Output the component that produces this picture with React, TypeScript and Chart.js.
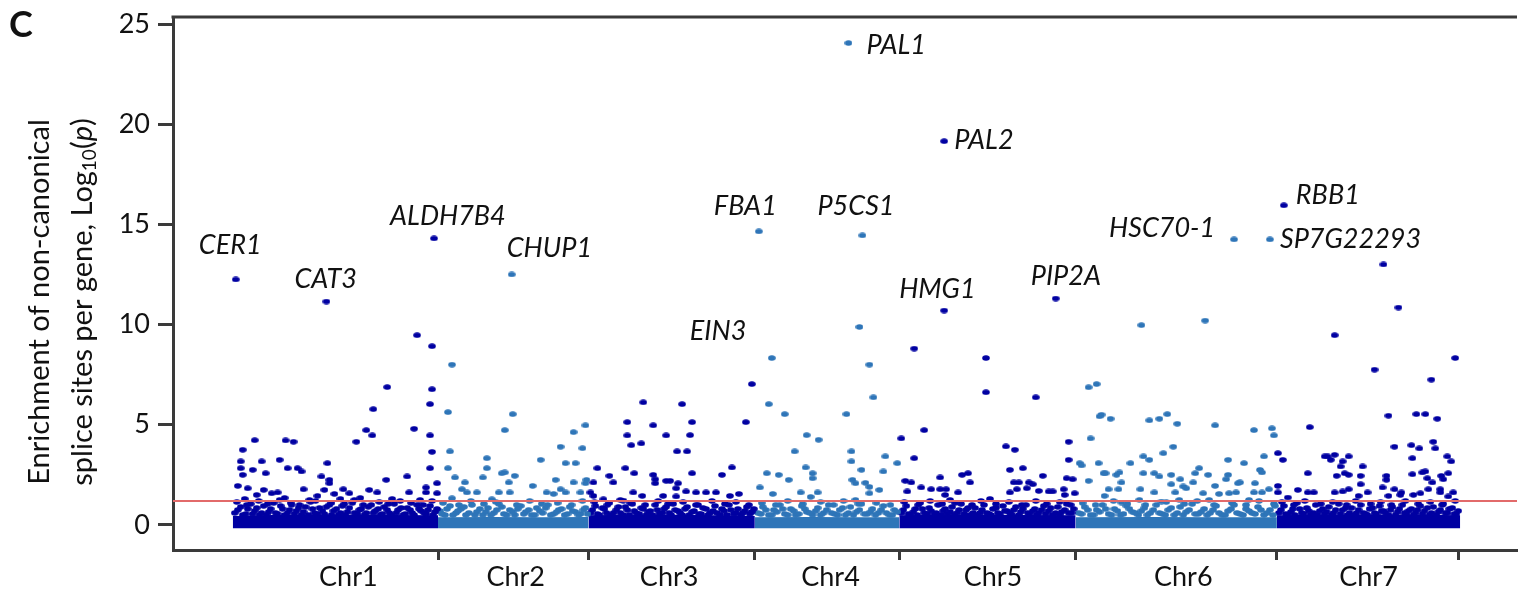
import React, { useEffect, useRef } from "react";
import { Chart, registerables } from "chart.js";

Chart.register(...registerables);

// ---------- DATA ----------
// x = cumulative genome position (Mb-like units), y = -Log10(p)
const chrNames = ["Chr1", "Chr2", "Chr3", "Chr4", "Chr5", "Chr6", "Chr7"];
const chrBoundaries = [206, 357, 524, 669, 846, 1048, 1230];
const chrLabelPositions = [116, 284, 438, 600, 763, 954, 1140];
const yTickValues = [0, 5, 10, 15, 20, 25];
const thresholdValue = 1.2;
const xMin = -60;
const xMax = 1289;
const yMin = -1.25;
const yMax = 25.35;

// dense low-significance band (upper edge of the solid mass of points)
const chr1Band = [[0, 0.45], [40, 0.5], [100, 0.52], [160, 0.5], [206, 0.48]];
const chr2Band = [[206, 0.38], [260, 0.4], [310, 0.38], [357, 0.4]];
const chr3Band = [[357, 0.48], [420, 0.52], [470, 0.5], [524, 0.45]];
const chr4Band = [[524, 0.38], [580, 0.4], [630, 0.38], [669, 0.38]];
const chr5Band = [[669, 0.48], [740, 0.52], [800, 0.5], [846, 0.48]];
const chr6Band = [[846, 0.38], [920, 0.4], [990, 0.38], [1048, 0.38]];
const chr7Band = [[1048, 0.48], [1120, 0.52], [1180, 0.52], [1232, 0.48]];

const chr1 = [
  [3, 12.25], [94, 11.15], [202, 14.3], [185, 9.47], [200, 8.92], [155, 6.88], [200, 6.77], [198, 6.03],
  [141, 5.78], [182, 4.8], [134, 4.73], [140, 4.47], [198, 4.47], [124, 4.15], [22, 4.23], [53, 4.22],
  [61, 4.15], [10, 3.75], [200, 3.65], [47, 3.25], [29, 3.17], [8, 3.17], [95, 3.08], [8, 2.83], [20, 2.75],
  [55, 2.83], [65, 2.83], [198, 2.83], [10, 2.5], [33, 2.58], [69, 2.67], [89, 2.42], [175, 2.42], [97, 2.25],
  [97, 2.08], [154, 2.25], [205, 2.08], [5, 1.95], [15, 1.83], [31, 1.75], [71, 1.78], [92, 1.75], [111, 1.78],
  [137, 1.75], [194, 1.87], [194, 1.62], [177, 1.62], [24, 1.5], [39, 1.58], [45, 1.62], [85, 1.45], [102, 1.55],
  [117, 1.58], [145, 1.62], [205, 1.58], [12, 1.3], [52, 1.35], [77, 1.25], [108, 1.3], [128, 1.35], [160, 1.3],
  [188, 1.25],
  [4, 1.15], [14, 1.0], [26, 1.2], [35, 1.05], [47, 1.25], [58, 1.1], [67, 1.0], [83, 1.2], [99, 1.1], [112, 1.05],
  [122, 1.25], [131, 1.0], [147, 1.15], [156, 1.05], [168, 1.2], [179, 1.1], [191, 1.0], [200, 1.2],
  [2, 0.6], [8, 0.9], [13, 0.55], [18, 1.05], [22, 0.7], [27, 0.5], [31, 0.95], [36, 0.65], [41, 1.1], [45, 0.55],
  [50, 0.8], [55, 0.6], [59, 1.0], [64, 0.7], [69, 0.5], [73, 0.9], [78, 1.15], [82, 0.6], [87, 0.85], [92, 0.55],
  [97, 1.0], [101, 0.7], [106, 0.5], [110, 0.95], [115, 0.65], [120, 1.1], [125, 0.55], [129, 0.8], [134, 0.6],
  [139, 1.0], [143, 0.7], [148, 0.5], [152, 0.9], [157, 0.6], [162, 1.05], [166, 0.75], [171, 0.5], [175, 0.85],
  [180, 0.6], [185, 1.0], [189, 0.7], [194, 0.55], [198, 0.95], [203, 0.65],
  [5, 0.75], [10, 0.5], [15, 0.8], [20, 0.55], [24, 0.85], [29, 0.6], [34, 0.5], [38, 0.8], [43, 0.6], [48, 0.95],
  [52, 0.5], [57, 0.75], [62, 0.55], [66, 0.85], [71, 0.65], [76, 0.5], [80, 0.8], [85, 0.55], [90, 0.7], [94, 0.9],
  [99, 0.5], [104, 0.8], [108, 0.6], [113, 0.5], [117, 0.85], [122, 0.6], [127, 0.75], [132, 0.5], [136, 0.9],
  [141, 0.6], [146, 0.8], [150, 0.55], [155, 0.75], [159, 0.5], [164, 0.6], [169, 0.85], [173, 0.55], [178, 0.75],
  [182, 0.5], [187, 0.8], [192, 0.6], [196, 0.75], [201, 0.5], [205, 0.8],
];

const chr2 = [
  [280, 12.5], [220, 8.0], [216, 5.63], [281, 5.53], [273, 4.73], [354, 4.97], [342, 4.63], [329, 3.9],
  [351, 3.83], [218, 3.67], [255, 3.33], [309, 3.25], [334, 3.08], [344, 3.08], [216, 2.83], [255, 2.83],
  [270, 2.58], [273, 2.62], [283, 2.45], [223, 2.37], [251, 2.37], [324, 2.25], [233, 2.12], [277, 2.12],
  [301, 1.95], [342, 2.12], [355, 2.25], [354, 2.08], [230, 1.78], [235, 1.62], [245, 1.62], [267, 1.62],
  [278, 1.62], [315, 1.62], [322, 1.55], [329, 1.78], [334, 1.62], [349, 1.62], [220, 1.33], [260, 1.28],
  [211, 1.1], [227, 1.0], [239, 1.2], [252, 1.05], [264, 1.15], [285, 1.0], [298, 1.2], [310, 1.05], [326, 1.1],
  [340, 1.0], [351, 1.2],
  [208, 0.7], [213, 0.5], [218, 0.95], [224, 0.6], [229, 0.8], [234, 0.5], [240, 1.0], [245, 0.65], [251, 0.5],
  [256, 0.85], [262, 0.6], [267, 1.05], [272, 0.55], [278, 0.75], [283, 0.5], [289, 0.95], [294, 0.65], [300, 0.5],
  [305, 0.85], [311, 0.6], [316, 1.0], [322, 0.55], [327, 0.75], [333, 0.5], [338, 0.9], [344, 0.65], [349, 0.55],
  [354, 0.85],
  [210, 0.55], [215, 0.8], [221, 0.5], [226, 0.7], [232, 0.9], [237, 0.6], [243, 0.5], [248, 0.8], [254, 0.65],
  [259, 0.5], [265, 0.75], [270, 0.9], [275, 0.5], [281, 0.65], [286, 0.8], [292, 0.55], [297, 0.75], [303, 0.5],
  [308, 0.7], [314, 0.85], [319, 0.5], [325, 0.65], [330, 0.8], [336, 0.55], [341, 0.7], [347, 0.5], [352, 0.75],
  [356, 0.55],
];

const chr3 = [
  [412, 6.12], [396, 5.13], [422, 4.97], [396, 4.47], [400, 3.98], [410, 4.07], [435, 4.47], [366, 2.83],
  [394, 2.83], [403, 2.58], [422, 2.5], [424, 2.28], [424, 2.08], [378, 2.45], [382, 2.12], [362, 2.12],
  [435, 2.2], [359, 1.62], [362, 1.45], [402, 1.62], [411, 1.45], [432, 1.45], [372, 1.28], [392, 1.22],
  [521, 7.03], [451, 6.03], [515, 5.13], [461, 5.13], [459, 4.48], [446, 3.67], [456, 3.67], [461, 2.58],
  [491, 2.5], [501, 2.87], [439, 2.2], [447, 2.08], [445, 1.83], [455, 1.67], [465, 1.62], [475, 1.62],
  [485, 1.62], [499, 1.45], [508, 1.55], [445, 1.42],
  [363, 1.15], [376, 1.0], [389, 1.25], [399, 1.1], [414, 1.0], [427, 1.2], [437, 1.05], [452, 1.15], [467, 1.0],
  [481, 1.2], [494, 1.05], [505, 1.15], [518, 1.0],
  [359, 0.6], [364, 0.95], [368, 0.5], [373, 0.8], [378, 1.1], [382, 0.6], [387, 0.9], [392, 0.5], [396, 0.75],
  [401, 1.05], [405, 0.6], [410, 0.85], [415, 0.5], [419, 0.7], [424, 1.0], [428, 0.55], [433, 0.8], [438, 0.6],
  [442, 1.05], [447, 0.7], [451, 0.5], [456, 0.9], [461, 0.65], [465, 1.0], [470, 0.55], [475, 0.8], [479, 0.6],
  [484, 0.95], [489, 0.5], [493, 0.7], [498, 1.0], [503, 0.55], [507, 0.8], [512, 0.6], [516, 0.9], [521, 0.65],
  [361, 0.75], [366, 0.55], [371, 0.85], [375, 0.6], [380, 0.5], [385, 0.75], [389, 0.6], [394, 0.9], [398, 0.5],
  [403, 0.7], [408, 0.55], [412, 0.8], [417, 0.65], [421, 0.5], [426, 0.75], [431, 0.6], [435, 0.9], [440, 0.5],
  [444, 0.75], [449, 0.6], [454, 0.8], [458, 0.5], [463, 0.7], [468, 0.55], [472, 0.85], [477, 0.5], [482, 0.7],
  [486, 0.6], [491, 0.8], [496, 0.5], [500, 0.75], [505, 0.6], [510, 0.5], [514, 0.7], [519, 0.55], [523, 0.8],
];

const chr4 = [
  [618, 24.05], [528, 14.65], [632, 14.45], [541, 8.33], [629, 9.88], [639, 8.0], [643, 6.37], [538, 6.03],
  [554, 5.53], [616, 5.53], [576, 4.48], [588, 4.25], [564, 3.67], [621, 3.67], [621, 3.17], [575, 2.87],
  [631, 2.75], [655, 3.42], [653, 2.67], [667, 3.08], [536, 2.58], [548, 2.5], [582, 2.58], [582, 2.33],
  [558, 2.25], [622, 2.25], [625, 2.08], [635, 2.1], [639, 1.9], [529, 1.87], [542, 1.55], [570, 1.62],
  [587, 1.62], [639, 1.58], [649, 1.75], [580, 1.4], [625, 1.25],
  [531, 1.1], [545, 1.0], [557, 1.2], [572, 1.05], [590, 1.15], [603, 1.0], [613, 1.2], [628, 1.05], [646, 1.1],
  [660, 1.0],
  [527, 0.6], [532, 0.9], [538, 0.5], [543, 0.75], [549, 1.0], [554, 0.55], [560, 0.8], [565, 0.5], [571, 0.95],
  [576, 0.65], [582, 0.5], [587, 0.85], [593, 0.6], [598, 1.0], [604, 0.55], [609, 0.75], [615, 0.5], [620, 0.9],
  [626, 0.65], [631, 1.05], [637, 0.55], [642, 0.8], [648, 0.6], [653, 0.95], [659, 0.5], [664, 0.75],
  [530, 0.55], [535, 0.75], [541, 0.5], [546, 0.65], [552, 0.8], [557, 0.5], [563, 0.7], [568, 0.55], [574, 0.8],
  [579, 0.6], [585, 0.7], [590, 0.5], [596, 0.75], [601, 0.6], [607, 0.5], [612, 0.85], [618, 0.6], [623, 0.5],
  [629, 0.75], [634, 0.55], [640, 0.65], [645, 0.5], [651, 0.75], [656, 0.6], [662, 0.5], [667, 0.65],
];

const chr5 = [
  [714, 19.15], [714, 10.7], [826, 11.3], [684, 8.8], [756, 8.33], [756, 6.62], [806, 6.37], [694, 4.73],
  [671, 4.32], [684, 3.33], [776, 3.92], [785, 3.75], [839, 4.15], [839, 3.25], [780, 2.75], [793, 2.83],
  [813, 2.45], [732, 2.5], [738, 2.58], [710, 2.37], [740, 2.12], [675, 2.2], [681, 2.12], [691, 1.87],
  [701, 1.78], [710, 1.78], [716, 1.78], [728, 1.62], [715, 1.5], [677, 1.67], [784, 2.12], [789, 2.12],
  [799, 2.12], [803, 2.03], [780, 1.62], [787, 1.78], [797, 1.83], [809, 1.7], [819, 1.67], [823, 1.67],
  [834, 1.78], [837, 2.33], [843, 2.28], [845, 1.58], [835, 1.5], [720, 1.25], [760, 1.3],
  [674, 1.15], [688, 1.0], [700, 1.2], [712, 1.05], [725, 1.1], [742, 1.0], [751, 1.2], [766, 1.05], [779, 1.15],
  [792, 1.0], [806, 1.2], [817, 1.05], [830, 1.15], [841, 1.0],
  [671, 0.6], [676, 0.95], [680, 0.5], [685, 0.8], [690, 1.1], [694, 0.6], [699, 0.85], [704, 0.5], [708, 1.0],
  [713, 0.7], [717, 0.55], [722, 0.9], [727, 0.6], [731, 1.05], [736, 0.75], [740, 0.5], [745, 0.85], [750, 0.6],
  [754, 1.0], [759, 0.55], [763, 0.8], [768, 0.6], [773, 0.95], [777, 0.7], [782, 0.5], [786, 0.9], [791, 0.65],
  [796, 1.0], [800, 0.55], [805, 0.8], [809, 0.6], [814, 0.95], [819, 0.7], [823, 0.5], [828, 0.9], [832, 0.65],
  [837, 1.05], [842, 0.6],
  [673, 0.75], [678, 0.55], [683, 0.65], [687, 0.5], [692, 0.8], [697, 0.55], [701, 0.7], [706, 0.6], [711, 0.5],
  [715, 0.8], [720, 0.65], [724, 0.5], [729, 0.75], [734, 0.55], [738, 0.85], [743, 0.6], [747, 0.5], [752, 0.75],
  [757, 0.6], [761, 0.5], [766, 0.85], [770, 0.55], [775, 0.7], [780, 0.6], [784, 0.75], [789, 0.5], [793, 0.8],
  [798, 0.6], [803, 0.7], [807, 0.5], [812, 0.75], [816, 0.55], [821, 0.85], [826, 0.6], [830, 0.5], [835, 0.75],
  [839, 0.6], [844, 0.8],
];

const chr6 = [
  [1005, 14.25], [1041, 14.25], [912, 9.97], [976, 10.2], [859, 6.87], [867, 7.03], [872, 5.5], [870, 5.42],
  [861, 4.32], [850, 3.08], [852, 2.97], [869, 3.08], [874, 2.58], [859, 2.2], [881, 5.3], [920, 5.22],
  [930, 5.3], [938, 5.53], [948, 5.05], [986, 4.97], [1025, 4.73], [1043, 4.82], [1045, 4.47], [944, 3.9],
  [914, 3.42], [920, 3.25], [934, 3.58], [901, 3.08], [999, 3.25], [1015, 3.08], [1035, 3.42], [970, 2.83],
  [966, 2.58], [876, 2.58], [887, 2.5], [890, 2.62], [914, 2.58], [925, 2.58], [930, 2.42], [942, 2.5],
  [951, 2.28], [979, 2.5], [999, 2.5], [1031, 2.75], [1033, 2.62], [892, 2.12], [942, 2.03], [954, 1.92],
  [964, 2.12], [986, 1.95], [997, 2.28], [1009, 2.08], [1011, 2.12], [1026, 2.08], [879, 1.78], [889, 1.78],
  [911, 1.78], [925, 1.62], [946, 1.62], [957, 1.83], [974, 1.58], [990, 1.55], [1000, 1.58], [1007, 1.62],
  [1025, 1.62], [1033, 1.62], [1040, 1.78], [875, 1.45], [892, 1.12], [910, 1.25], [932, 1.17], [950, 1.25],
  [980, 1.25], [1020, 1.25],
  [853, 1.1], [866, 1.0], [884, 1.2], [898, 1.05], [916, 1.0], [937, 1.15], [955, 1.05], [968, 1.2], [985, 1.0],
  [1003, 1.1], [1017, 1.0], [1030, 1.2], [1045, 1.05],
  [849, 0.6], [855, 0.9], [861, 0.5], [867, 0.75], [873, 1.0], [879, 0.55], [885, 0.8], [891, 0.5], [897, 0.95],
  [903, 0.65], [909, 0.5], [915, 0.85], [921, 0.6], [927, 1.0], [933, 0.55], [939, 0.75], [945, 0.5], [951, 0.9],
  [957, 0.65], [963, 1.05], [969, 0.55], [975, 0.8], [981, 0.6], [987, 0.95], [993, 0.5], [999, 0.7], [1005, 1.0],
  [1011, 0.55], [1017, 0.8], [1023, 0.6], [1029, 0.9], [1035, 0.5], [1041, 0.75], [1046, 0.95],
  [852, 0.55], [858, 0.75], [864, 0.5], [870, 0.65], [876, 0.8], [882, 0.5], [888, 0.7], [894, 0.55], [900, 0.8],
  [906, 0.6], [912, 0.7], [918, 0.5], [924, 0.75], [930, 0.6], [936, 0.5], [942, 0.85], [948, 0.6], [954, 0.5],
  [960, 0.75], [966, 0.55], [972, 0.65], [978, 0.5], [984, 0.75], [990, 0.6], [996, 0.5], [1002, 0.8], [1008, 0.6],
  [1014, 0.5], [1020, 0.7], [1026, 0.55], [1032, 0.75], [1038, 0.6], [1044, 0.5],
];

const chr7 = [
  [1055, 15.95], [1155, 13.0], [1170, 10.85], [1081, 4.88], [1049, 3.58], [1054, 3.25], [1096, 3.42],
  [1079, 2.58], [1049, 1.95], [1049, 1.62], [1059, 1.37], [1069, 1.75], [1079, 1.62], [1085, 1.62],
  [1106, 9.47], [1227, 8.33], [1146, 7.75], [1203, 7.25], [1160, 5.45], [1188, 5.53], [1197, 5.53],
  [1209, 5.3], [1205, 4.15], [1207, 3.82], [1166, 3.9], [1183, 3.98], [1191, 3.82], [1184, 3.33], [1219, 3.42],
  [1223, 3.17], [1099, 3.42], [1106, 3.5], [1102, 3.25], [1120, 3.42], [1114, 3.17], [1112, 2.92], [1116, 2.58],
  [1120, 2.5], [1134, 2.92], [1108, 2.45], [1132, 2.45], [1132, 2.03], [1158, 2.45], [1158, 2.25], [1184, 2.53],
  [1194, 2.62], [1197, 2.67], [1199, 2.33], [1204, 2.12], [1213, 2.45], [1215, 2.28], [1220, 2.58], [1154, 1.87],
  [1166, 1.78], [1173, 1.62], [1106, 1.62], [1114, 1.67], [1120, 1.78], [1130, 1.45], [1139, 1.62], [1200, 1.78],
  [1212, 1.78], [1212, 1.62], [1225, 1.62], [1185, 1.5], [1192, 1.58], [1220, 1.42], [1160, 1.45], [1172, 1.5],
  [1053, 1.15], [1065, 1.0], [1076, 1.2], [1092, 1.05], [1104, 1.15], [1118, 1.0], [1127, 1.2], [1142, 1.05],
  [1152, 1.15], [1163, 1.0], [1177, 1.2], [1190, 1.05], [1202, 1.15], [1214, 1.0], [1227, 1.2],
  [1050, 0.6], [1055, 0.95], [1059, 0.5], [1064, 0.8], [1068, 1.1], [1073, 0.6], [1078, 0.85], [1082, 0.5],
  [1087, 1.0], [1091, 0.7], [1096, 0.55], [1100, 0.9], [1105, 0.6], [1110, 1.05], [1114, 0.75], [1119, 0.5],
  [1123, 0.85], [1128, 0.6], [1132, 1.0], [1137, 0.55], [1141, 0.8], [1146, 0.6], [1151, 0.95], [1155, 0.7],
  [1160, 0.5], [1164, 0.9], [1169, 0.65], [1174, 1.0], [1178, 0.55], [1183, 0.8], [1187, 0.6], [1192, 0.95],
  [1196, 0.7], [1201, 0.5], [1205, 0.9], [1210, 0.65], [1215, 1.05], [1219, 0.6], [1224, 0.85], [1228, 0.55],
  [1052, 0.75], [1057, 0.55], [1062, 0.65], [1066, 0.5], [1071, 0.8], [1075, 0.55], [1080, 0.7], [1085, 0.6],
  [1089, 0.5], [1094, 0.8], [1098, 0.65], [1103, 0.5], [1107, 0.75], [1112, 0.55], [1117, 0.85], [1121, 0.6],
  [1126, 0.5], [1130, 0.75], [1135, 0.6], [1139, 0.5], [1144, 0.85], [1148, 0.55], [1153, 0.7], [1157, 0.6],
  [1162, 0.75], [1167, 0.5], [1171, 0.8], [1176, 0.6], [1180, 0.7], [1185, 0.5], [1189, 0.75], [1194, 0.55],
  [1199, 0.85], [1203, 0.6], [1208, 0.5], [1212, 0.75], [1217, 0.6], [1221, 0.8], [1226, 0.55], [1230, 0.7],
];

// labelled genes: name, position, value
const geneNames = ["CER1", "CAT3", "ALDH7B4", "CHUP1", "EIN3", "FBA1", "P5CS1", "PAL1", "PAL2", "HMG1", "PIP2A", "HSC70-1", "RBB1", "SP7G22293"];
const genePositions = [3, 94, 202, 280, 521, 528, 632, 618, 714, 714, 826, 1005, 1055, 1041];
const geneValues = [12.25, 11.15, 14.3, 12.5, 7.03, 14.65, 14.45, 24.05, 19.15, 10.7, 11.3, 14.25, 15.95, 14.25];

// ---------- STYLE ----------
const DARK = "#0000A2";
const LIGHT = "#2E75B8";
const AXIS = "#3a3a3a";
const TEXT = "#111111";
const FONT = "Lato, 'Open Sans', sans-serif";
const TICK_SIZE = 27;
const LABEL_SIZE = 27;
const TITLE_SIZE = 29;
// label offsets in px relative to the marked point (left edge, vertical middle)
const labelOffsets = [
  [-37, -34], [-32, -22], [-44, -22], [-5, -26], [-62, -53], [-45, -25], [-45, -29],
  [18, 2], [10, -1], [-45, -21], [-25, -22], [-125, -11], [12, -10], [10, 0],
];

function makeDot(color: string) {
  const c = document.createElement("canvas");
  c.width = 8;
  c.height = 6;
  const g = c.getContext("2d")!;
  g.fillStyle = color;
  g.beginPath();
  g.ellipse(4, 3, 3.8, 2.8, 0, 0, Math.PI * 2);
  g.fill();
  return c;
}

const toXY = (arr: number[][]) => arr.map(([x, y]) => ({ x, y }));

export default function App() {
  const ref = useRef<HTMLCanvasElement>(null);

  useEffect(() => {
    document.body.style.margin = "0";
    const darkDot = makeDot(DARK);
    const lightDot = makeDot(LIGHT);
    const chrData = [chr1, chr2, chr3, chr4, chr5, chr6, chr7];
    const bands = [chr1Band, chr2Band, chr3Band, chr4Band, chr5Band, chr6Band, chr7Band];

    const datasets: any[] = [];
    bands.forEach((b, i) => {
      const col = i % 2 === 0 ? DARK : LIGHT;
      datasets.push({
        type: "line",
        data: toXY(b),
        backgroundColor: col,
        borderColor: col,
        borderWidth: 0,
        pointRadius: 0,
        fill: { value: -0.17 },
        tension: 0,
        order: 3,
      });
    });
    chrData.forEach((d, i) => {
      const even = i % 2 === 0;
      datasets.push({
        type: "scatter",
        data: toXY(d),
        pointStyle: even ? darkDot : lightDot,
        backgroundColor: even ? DARK : LIGHT,
        pointRadius: 3.5,
        order: 2,
      });
    });
    datasets.push({
      type: "line",
      data: [{ x: xMin, y: thresholdValue }, { x: xMax, y: thresholdValue }],
      borderColor: "#E26A6A",
      borderWidth: 2,
      pointRadius: 0,
      fill: false,
      order: 0,
    });

    const tickSet = [...chrBoundaries, ...chrLabelPositions].sort((a, b) => a - b);

    const overlay = {
      id: "overlay",
      afterDraw(chart: any) {
        const { ctx, chartArea, scales } = chart;
        ctx.save();
        // top frame line
        ctx.strokeStyle = AXIS;
        ctx.lineWidth = 3;
        ctx.beginPath();
        ctx.moveTo(chartArea.left - 1.5, chartArea.top);
        ctx.lineTo(chartArea.right, chartArea.top);
        ctx.stroke();

        // gene labels
        ctx.fillStyle = TEXT;
        ctx.font = `italic ${LABEL_SIZE}px ${FONT}`;
        ctx.textBaseline = "middle";
        ctx.textAlign = "left";
        geneNames.forEach((g, i) => {
          const px = scales.x.getPixelForValue(genePositions[i]);
          const py = scales.y.getPixelForValue(geneValues[i]);
          ctx.fillText(g, px + labelOffsets[i][0], py + labelOffsets[i][1]);
        });

        // panel letter
        ctx.font = `bold 36px ${FONT}`;
        ctx.textBaseline = "alphabetic";
        ctx.fillText("C", 9, 37);

        // y-axis title (two lines, rotated)
        const cy = 302;
        ctx.save();
        ctx.translate(40, cy);
        ctx.rotate(-Math.PI / 2);
        ctx.textAlign = "center";
        ctx.textBaseline = "middle";
        ctx.font = `${TITLE_SIZE}px ${FONT}`;
        ctx.fillText("Enrichment of non-canonical", 0, 0);
        ctx.restore();

        ctx.save();
        ctx.translate(83, cy);
        ctx.rotate(-Math.PI / 2);
        ctx.textAlign = "left";
        ctx.textBaseline = "middle";
        const parts = [
          { t: "splice sites per gene, Log", f: `${TITLE_SIZE}px ${FONT}`, dy: 0 },
          { t: "10", f: `19px ${FONT}`, dy: 7 },
          { t: "(", f: `${TITLE_SIZE}px ${FONT}`, dy: 0 },
          { t: "p", f: `italic ${TITLE_SIZE}px ${FONT}`, dy: 0 },
          { t: ")", f: `${TITLE_SIZE}px ${FONT}`, dy: 0 },
        ];
        let total = 0;
        parts.forEach((p) => {
          ctx.font = p.f;
          total += ctx.measureText(p.t).width;
        });
        let x = -total / 2;
        parts.forEach((p) => {
          ctx.font = p.f;
          ctx.fillText(p.t, x, p.dy);
          x += ctx.measureText(p.t).width;
        });
        ctx.restore();
        ctx.restore();
      },
    };

    const chart = new Chart(ref.current!, {
      type: "scatter",
      data: { datasets },
      plugins: [overlay],
      options: {
        animation: false,
        responsive: false,
        events: [],
        layout: { padding: { top: 17, right: 0, left: 0, bottom: 0 } },
        plugins: { legend: { display: false }, tooltip: { enabled: false } },
        scales: {
          x: {
            type: "linear",
            min: xMin,
            max: xMax,
            border: { color: AXIS, width: 3 },
            grid: {
              drawOnChartArea: false,
              drawTicks: true,
              tickLength: 10,
              tickWidth: 3,
              tickColor: (c: any) =>
                c.tick && chrBoundaries.includes(c.tick.value) ? AXIS : "rgba(0,0,0,0)",
            },
            afterBuildTicks: (s: any) => {
              s.ticks = tickSet.map((v) => ({ value: v }));
            },
            afterFit: (s: any) => {
              s.height = 53;
              s.paddingLeft = 0;
              s.paddingRight = 0;
            },
            ticks: {
              autoSkip: false,
              maxRotation: 0,
              minRotation: 0,
              padding: 1,
              color: TEXT,
              font: { family: FONT, size: TICK_SIZE },
              callback: (v: any) => {
                const idx = chrLabelPositions.indexOf(Number(v));
                return idx >= 0 ? chrNames[idx] : "";
              },
            },
          },
          y: {
            type: "linear",
            min: yMin,
            max: yMax,
            border: { color: AXIS, width: 3 },
            grid: {
              drawOnChartArea: false,
              drawTicks: true,
              tickLength: 15,
              tickWidth: 3,
              tickColor: AXIS,
            },
            afterBuildTicks: (s: any) => {
              s.ticks = yTickValues.map((v) => ({ value: v }));
            },
            afterFit: (s: any) => {
              s.width = 173;
              s.paddingTop = 0;
              s.paddingBottom = 0;
            },
            ticks: {
              padding: 8,
              color: TEXT,
              font: { family: FONT, size: TICK_SIZE },
              callback: (v: any) => String(v),
            },
          },
        },
      },
    });
    return () => chart.destroy();
  }, []);

  return (
    <div style={{ width: 1522, height: 603, background: "#fff" }}>
      <canvas ref={ref} width={1522} height={603} style={{ display: "block" }} />
    </div>
  );
}
